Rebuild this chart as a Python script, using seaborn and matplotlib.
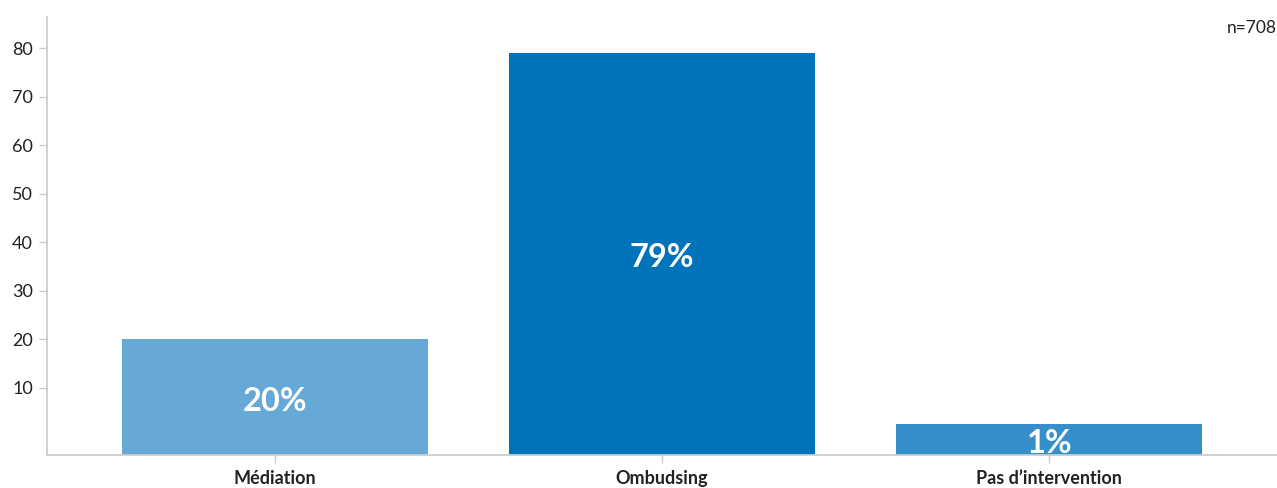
import matplotlib
matplotlib.use("Agg")
import matplotlib.pyplot as plt
import seaborn as sns
import pandas as pd

categories = ["Médiation", "Ombudsing", "Pas d’intervention"]
# bar heights as drawn in the picture (the 1% bar is drawn slightly taller)
heights = [20, 79, 2.6]
labels = ["20%", "79%", "1%"]
colors = ["#66A9D6", "#0173BB", "#368FCB"]
yticks = [10, 20, 30, 40, 50, 60, 70, 80]

df = pd.DataFrame({"cat": categories, "val": heights})

sns.set_theme(style="white")
plt.rcParams["font.family"] = ["Lato", "DejaVu Sans"]

fig = plt.figure(figsize=(12.77, 4.88), dpi=100)
ax = fig.add_axes([0.0368, 0.0676, 0.9632, 0.8976])

sns.barplot(data=df, x="cat", y="val", hue="cat", palette=colors,
            legend=False, width=0.79, saturation=1, ax=ax)

ymin, ymax = -3.8, 86.4
ax.set_ylim(ymin, ymax)
ax.set_xlim(-0.588, 2.588)

# bars start from the bottom of the axis, like in the original chart
for p, lab in zip(ax.patches, labels):
    top = p.get_height()
    p.set_y(ymin)
    p.set_height(top - ymin)
    p.set_edgecolor("none")
    ax.text(p.get_x() + p.get_width() / 2, (ymin + top) / 2 - 0.8, lab,
            ha="center", va="center", color="white", fontsize=23.5,
            fontweight="bold")

ax.set_yticks(yticks)
ax.set_xlabel("")
ax.set_ylabel("")
ax.tick_params(axis="y", length=6, width=1, color="#cccccc", labelsize=13,
               labelcolor="#222222", pad=4, left=True)
ax.tick_params(axis="x", length=6, width=1, color="#cccccc", labelsize=13,
               labelcolor="#222222", pad=5, bottom=True)
for t in ax.get_xticklabels():
    t.set_fontweight("bold")

sns.despine(ax=ax, top=True, right=True)
ax.spines["left"].set_color("#cccccc")
ax.spines["bottom"].set_color("#cccccc")

fig.text(0.9995, 0.943, "n=708", ha="right", va="center", fontsize=12.5,
         color="#222222")

fig.savefig("out.png", dpi=100)
